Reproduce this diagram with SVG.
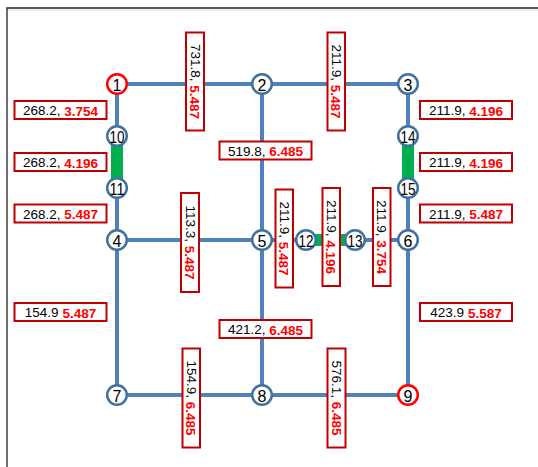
<svg xmlns="http://www.w3.org/2000/svg" width="538" height="467" viewBox="0 0 538 467">
  <style>
    .frame { fill: none; stroke: #222; stroke-width: 1.3; }
    .edge { stroke: #4f81bd; stroke-width: 4; fill: none; }
    .green { stroke: #00b050; stroke-width: 12; fill: none; }
    .node circle { fill: #fff; stroke: #41719c; stroke-width: 2.5; }
    .node.src circle { stroke: #ff0000; }
    .node text { font-family: "Liberation Sans", Arial, sans-serif; font-size: 16px; fill: #000; text-anchor: middle; dominant-baseline: central; }
    .lbl rect { fill: #fff; stroke: #c00000; stroke-width: 2; }
    .lbl text { font-family: "Liberation Sans", Arial, sans-serif; font-size: 13.5px; fill: #000; text-anchor: middle; dominant-baseline: central; }
    .lbl tspan.v { fill: #ff0000; font-weight: bold; }
  </style>

  <rect width="538" height="467" fill="#fff"/>
  <line x1="7" y1="10" x2="538" y2="10" stroke="#ddd" stroke-width="1"/>
  <path class="frame" d="M7,467 V8 H538"/>

  <!-- connectors -->
  <g id="connectors">
    <path class="edge" d="M117,84 H408"/>
    <path class="edge" d="M117,84 V240"/>
    <path class="edge" d="M117,240 H408"/>
    <path class="edge" d="M117,240 V395 H408 V240"/>
    <path class="edge" d="M262,84 V395"/>
    <path class="edge" d="M408,84 V240"/>
    <path class="green" d="M117,137 V188"/>
    <path class="green" d="M408,137 V188"/>
    <path class="green" d="M306,240 H355"/>
  </g>

  <!-- nodes -->
  <g id="n1" class="node src"><circle cx="117" cy="84" r="9.8"/><text x="117" y="85">1</text></g>
  <g id="n2" class="node"><circle cx="262" cy="84" r="9.8"/><text x="262" y="85">2</text></g>
  <g id="n3" class="node"><circle cx="408" cy="84" r="9.8"/><text x="408" y="85">3</text></g>
  <g id="n10" class="node"><circle cx="117" cy="136" r="9.8"/><text x="117" y="137" textLength="15" lengthAdjust="spacingAndGlyphs">10</text></g>
  <g id="n11" class="node"><circle cx="117" cy="188" r="9.8"/><text x="117" y="189" textLength="15" lengthAdjust="spacingAndGlyphs">11</text></g>
  <g id="n14" class="node"><circle cx="408" cy="136" r="9.8"/><text x="408" y="137" textLength="15" lengthAdjust="spacingAndGlyphs">14</text></g>
  <g id="n15" class="node"><circle cx="408" cy="188" r="9.8"/><text x="408" y="189" textLength="15" lengthAdjust="spacingAndGlyphs">15</text></g>
  <g id="n4" class="node"><circle cx="117" cy="240" r="9.8"/><text x="117" y="241">4</text></g>
  <g id="n5" class="node"><circle cx="262" cy="240" r="9.8"/><text x="262" y="241">5</text></g>
  <g id="n12" class="node"><circle cx="306" cy="240" r="9.8"/><text x="306" y="241" textLength="15" lengthAdjust="spacingAndGlyphs">12</text></g>
  <g id="n13" class="node"><circle cx="355" cy="240" r="9.8"/><text x="355" y="241" textLength="15" lengthAdjust="spacingAndGlyphs">13</text></g>
  <g id="n6" class="node"><circle cx="408" cy="240" r="9.8"/><text x="408" y="241">6</text></g>
  <g id="n7" class="node"><circle cx="117" cy="395" r="9.8"/><text x="117" y="396">7</text></g>
  <g id="n8" class="node"><circle cx="262" cy="395" r="9.8"/><text x="262" y="396">8</text></g>
  <g id="n9" class="node src"><circle cx="408" cy="395" r="9.8"/><text x="408" y="396">9</text></g>

  <!-- horizontal labels -->
  <g class="lbl"><rect x="14.5" y="101" width="92" height="18"/><text x="60.5" y="110.5">268.2, <tspan class="v">3.754</tspan></text></g>
  <g class="lbl"><rect x="14.5" y="153" width="92" height="18"/><text x="60.5" y="162.5">268.2, <tspan class="v">4.196</tspan></text></g>
  <g class="lbl"><rect x="14.5" y="204.5" width="92" height="18"/><text x="60.5" y="214">268.2, <tspan class="v">5.487</tspan></text></g>
  <g class="lbl"><rect x="14.5" y="303" width="92" height="18"/><text x="60.5" y="312.5">154.9 <tspan class="v">5.487</tspan></text></g>
  <g class="lbl"><rect x="219.5" y="141.5" width="92" height="18"/><text x="265.5" y="151">519.8, <tspan class="v">6.485</tspan></text></g>
  <g class="lbl"><rect x="219.5" y="320" width="92" height="18"/><text x="265.5" y="329.5">421.2, <tspan class="v">6.485</tspan></text></g>
  <g class="lbl"><rect x="420" y="101" width="92" height="18"/><text x="466" y="110.5">211.9, <tspan class="v">4.196</tspan></text></g>
  <g class="lbl"><rect x="420" y="153" width="92" height="18"/><text x="466" y="162.5">211.9, <tspan class="v">4.196</tspan></text></g>
  <g class="lbl"><rect x="420" y="204.5" width="92" height="18"/><text x="466" y="214">211.9, <tspan class="v">5.487</tspan></text></g>
  <g class="lbl"><rect x="420" y="303" width="92" height="18"/><text x="466" y="312.5">423.9 <tspan class="v">5.587</tspan></text></g>

  <!-- vertical labels -->
  <g class="lbl"><rect x="186" y="32.5" width="18" height="98"/><text transform="translate(195,81.5) rotate(90)">731.8, <tspan class="v">5.487</tspan></text></g>
  <g class="lbl"><rect x="327.5" y="32.5" width="17.5" height="98"/><text transform="translate(336.2,81.5) rotate(90)">211.9, <tspan class="v">5.487</tspan></text></g>
  <g class="lbl"><rect x="181" y="193" width="18" height="99"/><text transform="translate(190,242.5) rotate(90)">113.3, <tspan class="v">5.487</tspan></text></g>
  <g class="lbl"><rect x="275.5" y="189.5" width="17.5" height="98"/><text transform="translate(284.2,238.5) rotate(90)">211.9, <tspan class="v">5.487</tspan></text></g>
  <g class="lbl"><rect x="322.5" y="188" width="17.5" height="98"/><text transform="translate(331.2,237) rotate(90)">211.9, <tspan class="v">4.196</tspan></text></g>
  <g class="lbl"><rect x="373" y="188" width="17.5" height="98"/><text transform="translate(381.7,237) rotate(90)">211.9, <tspan class="v">3.754</tspan></text></g>
  <g class="lbl"><rect x="182.5" y="348.5" width="17.5" height="99"/><text transform="translate(191.2,398) rotate(90)">154.9, <tspan class="v">6.485</tspan></text></g>
  <g class="lbl"><rect x="327.5" y="348.5" width="18" height="99"/><text transform="translate(336.5,398) rotate(90)">576.1, <tspan class="v">6.485</tspan></text></g>
</svg>
